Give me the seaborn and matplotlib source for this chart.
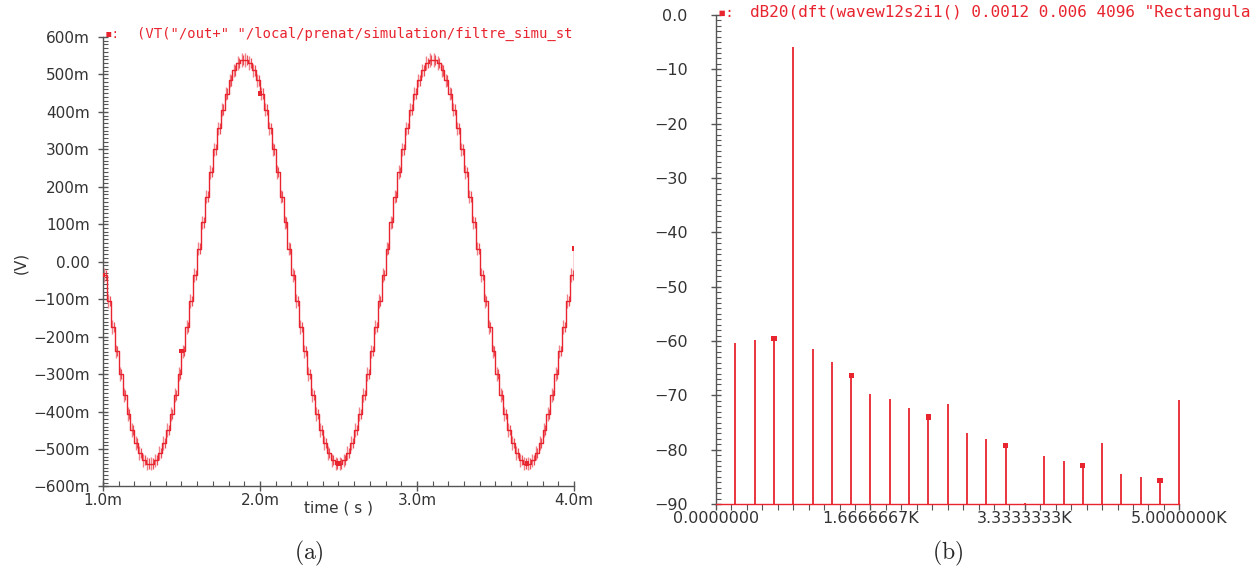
import numpy as np
import matplotlib
matplotlib.use("Agg")
import matplotlib.pyplot as plt
from matplotlib.ticker import MultipleLocator, FuncFormatter, FixedLocator, FixedFormatter
import seaborn as sns

# (a) sortie du filtre : un palier tous les 25 us, valeurs en mV
t_debut_ms = 1.0
pas_ms = 0.025
vout_mv = [
    -35, -105, -174, -239, -300, -356, -406, -449, -484, -511, -530, -539,
    -539, -530, -511, -484, -449, -406, -356, -300, -239, -174, -105, -35,
    35, 105, 174, 239, 300, 356, 406, 449, 484, 511, 530, 539,
    539, 530, 511, 484, 449, 406, 356, 300, 239, 174, 105, 35,
    -35, -105, -174, -239, -300, -356, -406, -449, -484, -511, -530, -539,
    -539, -530, -511, -484, -449, -406, -356, -300, -239, -174, -105, -35,
    35, 105, 174, 239, 300, 356, 406, 449, 484, 511, 530, 539,
    539, 530, 511, 484, 449, 406, 356, 300, 239, 174, 105, 35,
    -35, -105, -174, -239, -300, -356, -406, -449, -484, -511, -530, -539,
    -539, -530, -511, -484, -449, -406, -356, -300, -239, -174, -105, -35,
    35,
]
marqueurs_t_ms = [1.0, 1.5, 2.0, 2.5, 3.7, 4.0]

# (b) spectre dB20(dft) : raies n = 1..24, pas 5000/24 Hz
raies_n = list(range(1, 25))
raies_db = [-60.3, -59.9, -59.5, -5.9, -61.5, -63.8, -66.3, -69.7,
            -70.7, -72.4, -74.0, -71.6, -77.0, -78.1, -79.2, -89.9,
            -81.2, -82.0, -82.9, -78.7, -84.4, -85.1, -85.6, -70.9]
raies_marq = [3, 7, 11, 15, 19, 23]
freq_max_hz = 5000

ROUGE = "#e8242f"
ROSE = "#f08088"
GRIS = "#555555"
TXT = "#333333"

sns.set_style("white")
plt.rcParams["font.family"] = ["DejaVu Sans"]
plt.rcParams["mathtext.fontset"] = "cm"

fig = plt.figure(figsize=(12.54, 5.73), dpi=100)
ax1 = fig.add_axes([0.0821, 0.1510, 0.3756, 0.7845])
ax2 = fig.add_axes([0.5710, 0.1204, 0.3695, 0.8534])

# ---- (a)
t_ms = t_debut_ms + pas_ms * np.arange(len(vout_mv))
v = np.array(vout_mv, dtype=float)
# ondulation de commutation sur chaque palier
ax1.vlines(t_ms[:-1] + pas_ms * 0.3, v[:-1] - 18, v[:-1] + 18, color=ROSE, lw=1.0)
ax1.vlines(t_ms[:-1] + pas_ms * 0.7, v[:-1] - 14, v[:-1] + 14, color=ROUGE, lw=0.9, alpha=0.8)
sns.lineplot(x=t_ms, y=v, ax=ax1, color=ROUGE, lw=1.0, drawstyle="steps-post",
             estimator=None, sort=False)
idx = [int(round((t - t_debut_ms) / pas_ms)) for t in marqueurs_t_ms]
sns.scatterplot(x=[t_ms[i] for i in idx], y=[v[i] for i in idx], ax=ax1, marker="s",
                s=10, color=ROUGE, edgecolor="none", zorder=5)

ax1.set_xlim(1.0, 4.0)
ax1.set_ylim(-600, 600)
ax1.xaxis.set_major_locator(MultipleLocator(1.0))
ax1.xaxis.set_minor_locator(MultipleLocator(0.1))
ax1.yaxis.set_major_locator(MultipleLocator(100))
ax1.yaxis.set_minor_locator(MultipleLocator(10))
ax1.xaxis.set_major_formatter(FuncFormatter(lambda x, p: f"{x:.1f}m"))
ax1.yaxis.set_major_formatter(FuncFormatter(
    lambda y, p: "0.00" if abs(y) < 1e-9 else f"{y:.0f}m".replace("-", "\u2212")))
ax1.set_xlabel("")
ax1.set_ylabel("")

# ---- (b)
f_hz = [freq_max_hz / 24 * n for n in raies_n]
ax2.vlines(f_hz, -90, raies_db, color=ROUGE, lw=1.3, clip_on=False)
sns.scatterplot(x=[f_hz[n - 1] for n in raies_marq], y=[raies_db[n - 1] for n in raies_marq],
                ax=ax2, marker="s", s=14, color=ROUGE, edgecolor="none", zorder=5)
ax2.set_xlim(0, freq_max_hz)
ax2.set_ylim(-90, 0)
ax2.xaxis.set_major_locator(FixedLocator([0, 5000 / 3, 10000 / 3, 5000]))
ax2.xaxis.set_major_formatter(FixedFormatter(["0.0000000", "1.6666667K", "3.3333333K", "5.0000000K"]))
ax2.xaxis.set_minor_locator(MultipleLocator(5000 / 30))
ax2.yaxis.set_major_locator(MultipleLocator(10))
ax2.yaxis.set_minor_locator(MultipleLocator(1))
ax2.yaxis.set_major_formatter(FuncFormatter(
    lambda y, p: "0.0" if abs(y) < 1e-9 else f"{y:.0f}".replace("-", "\u2212")))
ax2.set_xlabel("")
ax2.set_ylabel("")

for ax in (ax1, ax2):
    for s in ("top", "right"):
        ax.spines[s].set_visible(False)
    for s in ("left", "bottom"):
        ax.spines[s].set_color(GRIS)
        ax.spines[s].set_linewidth(1.0)
    ax.tick_params(which="both", bottom=True, left=True, top=False, right=False)
    ax.tick_params(which="major", direction="inout", length=7, width=1, color=GRIS,
                   labelcolor=TXT, labelsize=11)
    ax.tick_params(which="minor", direction="in", length=3.5, width=0.8, color=GRIS)
    ax.set_facecolor("white")

ax1.tick_params(axis="y", which="major", pad=6)
ax1.tick_params(axis="x", which="major", pad=1)
ax2.tick_params(axis="y", which="major", pad=17)
ax2.tick_params(axis="x", which="both", direction="out", length=4)
ax2.tick_params(axis="x", which="major", pad=1, labelsize=11.5)
ax2.tick_params(axis="y", which="major", labelsize=11.5)
ax2.spines["bottom"].set_color(ROUGE)

# titres de courbe façon Cadence
fig.text(112 / 1254, 1 - 34 / 573, "\u25aa:", color=ROUGE, fontsize=9,
         family="DejaVu Sans Mono", ha="center", va="center")
fig.text(137 / 1254, 1 - 34 / 573, '(VT("/out+" "/local/prenat/simulation/filtre_simu_st',
         color=ROUGE, fontsize=10, family="DejaVu Sans Mono", ha="left", va="center")
fig.text(726 / 1254, 1 - 13 / 573, "\u25aa:", color=ROUGE, fontsize=10,
         family="DejaVu Sans Mono", ha="center", va="center")
fig.text(750 / 1254, 1 - 13 / 573, 'dB20(dft(wavew12s2i1() 0.0012 0.006 4096 "Rectangula',
         color=ROUGE, fontsize=11.5, family="DejaVu Sans Mono", ha="left", va="center")

fig.text(338.5 / 1254, 1 - 508 / 573, "time ( s )", color=TXT, fontsize=11,
         ha="center", va="center")
fig.text(21 / 1254, 1 - 263 / 573, "(V)", color=TXT, fontsize=11, rotation=90,
         ha="center", va="center")

fig.text(309 / 1254, 1 - 553 / 573, r"$\mathrm{(a)}$", fontsize=17, ha="center", va="center")
fig.text(948 / 1254, 1 - 553 / 573, r"$\mathrm{(b)}$", fontsize=17, ha="center", va="center")

fig.savefig("out.png", dpi=100, facecolor="white")
